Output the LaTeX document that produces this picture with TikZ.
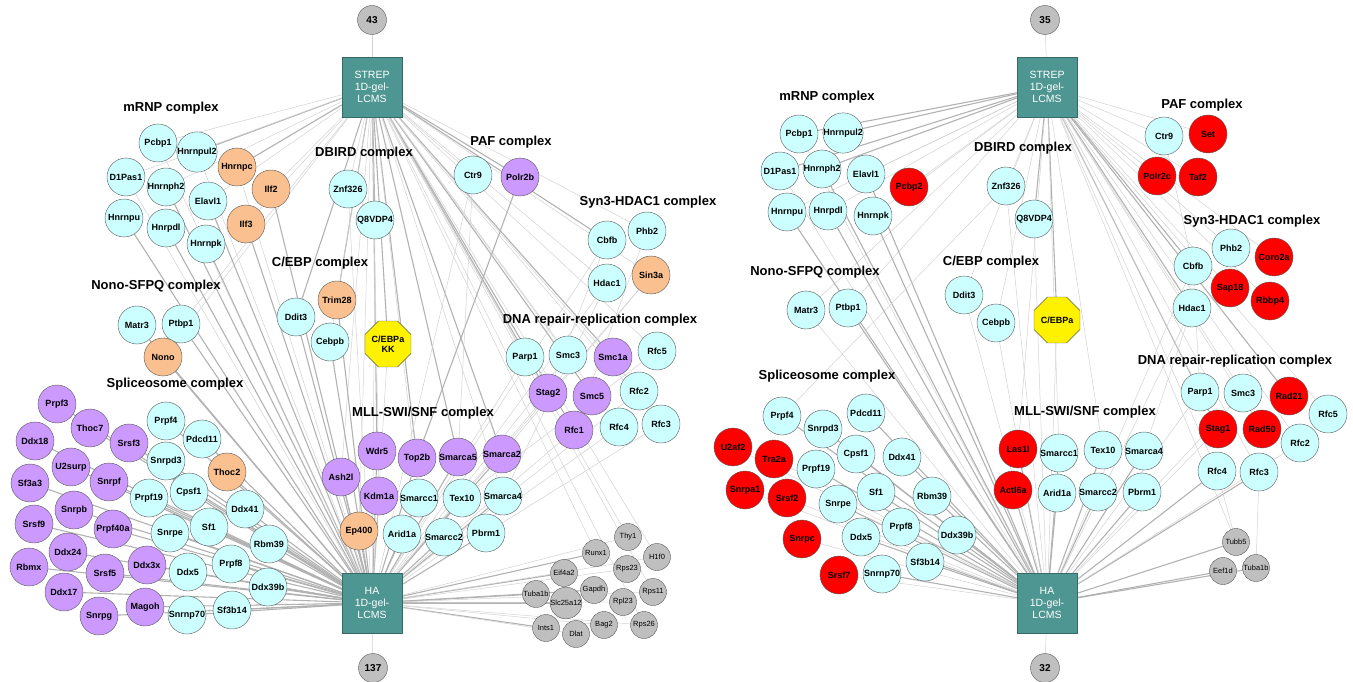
\documentclass[tikz,border=0pt]{standalone}
\usepackage{fontspec}
\setmainfont{Liberation Sans}
\usetikzlibrary{shapes.geometric}
\pgfdeclarelayer{edges}
\pgfsetlayers{edges,main}
\definecolor{cyanfill}{RGB}{204,255,255}
\definecolor{peach}{RGB}{250,192,144}
\definecolor{lilac}{RGB}{204,153,255}
\definecolor{baitteal}{RGB}{78,150,146}

\begin{document}
\begin{tikzpicture}[x=1pt,y=-1pt,
    circ/.style={circle,draw=gray!70!black,minimum size=38pt,inner sep=0pt,font=\fontsize{9}{10}\selectfont\bfseries},
    prot/.style={circ,fill=cyanfill},
    hit/.style={circ,fill=peach},
    co/.style={circ,fill=lilac},
    newhit/.style={circ,fill=red},
    other/.style={circle,draw=gray!70!black,fill=gray!50,minimum size=27pt,inner sep=0pt,font=\fontsize{7.5}{8}\selectfont},
    cnt/.style={circle,draw=gray!70!black,fill=gray!50,minimum size=29pt,inner sep=0pt,font=\fontsize{10}{11}\selectfont\bfseries},
    bait/.style={rectangle,draw=baitteal!70!black,fill=baitteal,minimum size=60pt,inner sep=0pt,align=center,text=white,font=\fontsize{10.5}{12}\selectfont},
    octag/.style={regular polygon,regular polygon sides=8,draw=gray!70!black,fill=yellow,minimum size=47pt,inner sep=0pt,align=center,font=\fontsize{9}{10}\selectfont\bfseries},
    ttl/.style={font=\fontsize{13}{14}\selectfont\bfseries},
    strong/.style={draw=gray!60,line width=1.1pt},
    weak/.style={draw=gray!35,line width=0.5pt}]
    \useasboundingbox (0,0) rectangle (1353,682);

    \node[cnt] (l43) at (372,20) {43};
    \node[bait] (lStrep) at (372,87) {STREP\\1D-gel-\\LCMS};
    \node[bait] (lHa) at (372,603) {HA\\1D-gel-\\LCMS};
    \node[cnt] (l137) at (373,668) {137};

    \node[ttl] at (171,108) {mRNP complex};
    \node[ttl] at (364,153) {DBIRD complex};
    \node[ttl] at (511,142) {PAF complex};
    \node[ttl] at (648,202) {Syn3-HDAC1 complex};
    \node[ttl] at (320,263) {C/EBP complex};
    \node[ttl] at (156,286) {Nono-SFPQ complex};
    \node[ttl] at (600,320) {DNA repair-replication complex};
    \node[ttl] at (175,384) {Spliceosome complex};
    \node[ttl] at (423,413) {MLL-SWI/SNF complex};

    \foreach \n/\t/\x/\y in {lPcbp1/Pcbp1/158/143, lHnrnpul2/Hnrnpul2/197/152, lD1Pas1/D1Pas1/126/177,
        lHnrnph2/Hnrnph2/166/187, lElavl1/Elavl1/208/201, lHnrnpu/Hnrnpu/124/218, lHnrpdl/Hnrpdl/166/228,
        lHnrnpk/Hnrnpk/206/244, lZnf326/Znf326/348/189, lQ8VDP4/Q8VDP4/375/220, lDdit3/Ddit3/296/317,
        lCebpb/Cebpb/330/342, lCtr9/Ctr9/473/175, lCbfb/Cbfb/607/240, lPhb2/Phb2/647/231, lHdac1/Hdac1/607/283,
        lMatr3/Matr3/137/325, lPtbp1/Ptbp1/181/324, lParp1/Parp1/525/357, lSmc3/Smc3/568/355,
        lRfc5/Rfc5/657/351, lRfc2/Rfc2/639/391, lRfc4/Rfc4/619/427, lRfc3/Rfc3/661/424,
        lSmarcc1/Smarcc1/419/498, lTex10/Tex10/462/498, lSmarca4/Smarca4/503/496, lArid1a/Arid1a/402/534,
        lSmarcc2/Smarcc2/444/537, lPbrm1/Pbrm1/486/533, lPrpf4/Prpf4/166/421, lPdcd11/Pdcd11/202/439,
        lSnrpd3/Snrpd3/166/461, lPrpf19/Prpf19/149/498, lCpsf1/Cpsf1/189/492, lDdx41/Ddx41/245/509,
        lSnrpe/Snrpe/170/533, lSf1/Sf1/209/527, lRbm39/Rbm39/269/544, lDdx5/Ddx5/188/572, lPrpf8/Prpf8/231/564,
        lDdx39b/Ddx39b/268/587, lSnrnp70/Snrnp70/187/615, lSf3b14/Sf3b14/232/610}
        \node[prot] (\n) at (\x,\y) {\t};
    \foreach \n/\t/\x/\y in {lHnrnpc/Hnrnpc/237/167, lIlf2/Ilf2/271/189, lIlf3/Ilf3/246/224,
        lTrim28/Trim28/337/300, lSin3a/Sin3a/651/275, lNono/Nono/163/357, lEp400/Ep400/359/531, lThoc2/Thoc2/227/472}
        \node[hit] (\n) at (\x,\y) {\t};
    \foreach \n/\t/\x/\y in {lPolr2b/Polr2b/520/177, lSmc1a/Smc1a/613/357, lStag2/Stag2/548/393,
        lSmc5/Smc5/592/396, lRfc1/Rfc1/574/430, lWdr5/Wdr5/377/451, lTop2b/Top2b/417/458,
        lSmarca5/Smarca5/458/457, lSmarca2/Smarca2/502/454, lAsh2l/Ash2l/341/477, lKdm1a/Kdm1a/379/496,
        lPrpf3/Prpf3/57/404, lThoc7/Thoc7/90/428, lDdx18/Ddx18/35/441, lSrsf3/Srsf3/129/443,
        lU2surp/U2surp/71/467, lSf3a3/Sf3a3/30/483, lSnrpf/Snrpf/109/482, lSnrpb/Snrpb/74/510,
        lSrsf9/Srsf9/34/524, lPrpf40a/Prpf40a/113/529, lDdx24/Ddx24/68/552, lRbmx/Rbmx/29/567,
        lSrsf5/Srsf5/105/573, lDdx3x/Ddx3x/147/565, lDdx17/Ddx17/64/592, lSnrpg/Snrpg/99/616, lMagoh/Magoh/145/607}
        \node[co] (\n) at (\x,\y) {\t};
    \foreach \n/\t/\x/\y in {lThy1/Thy1/628/537, lH1f0/H1f0/657/557, lRunx1/Runx1/596/553,
        lRps23/Rps23/627/569, lEif4a2/Eif4a2/564/573, lGapdh/Gapdh/594/590, lRps11/Rps11/653/592,
        lTuba1b/Tuba1b/536/594, lSlc25a12/Slc25a12/566/603, lRpl23/Rpl23/623/602, lBag2/Bag2/604/625,
        lRps26/Rps26/644/625, lInts1/Ints1/546/628, lDlat/Dlat/576/634}
        \node[other] (\n) at (\x,\y) {\t};
    \node[octag] (lCebpa) at (388,344) {C/EBPa\\KK};

    \node[cnt] (r35) at (1045,20) {35};
    \node[bait] (rStrep) at (1047,87) {STREP\\1D-gel-\\LCMS};
    \node[bait] (rHa) at (1047,603) {HA\\1D-gel-\\LCMS};
    \node[cnt] (r32) at (1045,668) {32};

    \node[ttl] at (827,97) {mRNP complex};
    \node[ttl] at (1023,148) {DBIRD complex};
    \node[ttl] at (1202,105) {PAF complex};
    \node[ttl] at (1252,221) {Syn3-HDAC1 complex};
    \node[ttl] at (991,262) {C/EBP complex};
    \node[ttl] at (815,272) {Nono-SFPQ complex};
    \node[ttl] at (1235,361) {DNA repair-replication complex};
    \node[ttl] at (827,376) {Spliceosome complex};
    \node[ttl] at (1085,412) {MLL-SWI/SNF complex};

    \foreach \n/\t/\x/\y in {rPcbp1/Pcbp1/799/134, rHnrnpul2/Hnrnpul2/843/133, rD1Pas1/D1Pas1/780/171,
        rHnrnph2/Hnrnph2/822/169, rElavl1/Elavl1/866/174, rHnrnpu/Hnrnpu/787/212, rHnrpdl/Hnrpdl/828/211,
        rHnrnpk/Hnrnpk/873/216, rZnf326/Znf326/1006/186, rQ8VDP4/Q8VDP4/1034/219, rDdit3/Ddit3/964/295,
        rCebpb/Cebpb/996/323, rCtr9/Ctr9/1164/136, rPhb2/Phb2/1231/248, rCbfb/Cbfb/1193/266,
        rHdac1/Hdac1/1192/308, rMatr3/Matr3/806/310, rPtbp1/Ptbp1/848/308, rParp1/Parp1/1200/392,
        rSmc3/Smc3/1243/393, rRfc5/Rfc5/1328/414, rRfc2/Rfc2/1300/443, rRfc4/Rfc4/1217/471,
        rRfc3/Rfc3/1259/472, rSmarcc1/Smarcc1/1059/453, rTex10/Tex10/1103/450, rSmarca4/Smarca4/1144/451,
        rArid1a/Arid1a/1057/493, rSmarcc2/Smarcc2/1098/492, rPbrm1/Pbrm1/1142/492, rPrpf4/Prpf4/782/416,
        rPdcd11/Pdcd11/866/413, rSnrpd3/Snrpd3/823/429, rCpsf1/Cpsf1/856/454, rDdx41/Ddx41/902/457,
        rPrpf19/Prpf19/816/469, rSf1/Sf1/876/492, rRbm39/Rbm39/932/496, rSnrpe/Snrpe/838/504,
        rPrpf8/Prpf8/901/527, rDdx39b/Ddx39b/957/535, rDdx5/Ddx5/861/537, rSf3b14/Sf3b14/925/562,
        rSnrnp70/Snrnp70/882/574}
        \node[prot] (\n) at (\x,\y) {\t};
    \foreach \n/\t/\x/\y in {rPcbp2/Pcbp2/909/187, rSet/Set/1208/134, rPolr2c/Polr2c/1157/176,
        rTaf2/Taf2/1198/177, rCoro2a/Coro2a/1274/257, rSap18/Sap18/1230/288, rRbbp4/Rbbp4/1270/301,
        rRad21/Rad21/1289/396, rStag1/Stag1/1218/429, rRad50/Rad50/1262/429, rLas1l/Las1l/1018/449,
        rActl6a/Actl6a/1013/490, rU2af2/U2af2/733/447, rTra2a/Tra2a/774/459, rSnrpa1/Snrpa1/745/490,
        rSrsf2/Srsf2/787/498, rSnrpc/Snrpc/802/539, rSrsf7/Srsf7/839/575}
        \node[newhit] (\n) at (\x,\y) {\t};
    \foreach \n/\t/\x/\y in {rTubb5/Tubb5/1236/542, rEef1d/Eef1d/1223/571, rTuba1b/Tuba1b/1256/568}
        \node[other] (\n) at (\x,\y) {\t};
    \node[octag] (rCebpa) at (1057,320) {C/EBPa};

    \begin{pgfonlayer}{edges}
        \draw[weak] (l43) -- (lStrep);
        \draw[weak] (l137) -- (lHa);
        \draw[weak] (r35) -- (rStrep);
        \draw[weak] (r32) -- (rHa);
        \foreach \n in {lHnrnpul2,lHnrnpc,lQ8VDP4,lCebpa,lSmc1a,lStag2,lSmc5,lRfc1,lTop2b,lSmarca5,
            lSmarca2,lWdr5,lDdit3,lTrim28,lPolr2b,lCbfb}
            \draw[strong] (lStrep) -- (\n);
        \foreach \n in {lPcbp1,lD1Pas1,lHnrnph2,lIlf2,lElavl1,lIlf3,lZnf326,lCebpb,lCtr9,lPhb2,lHdac1,
            lSin3a,lParp1,lSmc3,lRfc5,lRfc2,lRfc4,lRfc3,lNono,lPtbp1,lKdm1a,lAsh2l,lEp400,lThy1,lRunx1,
            lH1f0,lRps11,lRps26,lSmarca4,lSmarcc1}
            \draw[weak] (lStrep) -- (\n);
        \foreach \n in {lPrpf3,lThoc7,lDdx18,lSrsf3,lPrpf4,lPdcd11,lU2surp,lSnrpd3,lThoc2,lSf3a3,lSnrpf,
            lPrpf19,lCpsf1,lSnrpb,lDdx41,lSrsf9,lPrpf40a,lSnrpe,lSf1,lRbm39,lDdx24,lRbmx,lSrsf5,lDdx3x,
            lDdx5,lPrpf8,lDdx39b,lDdx17,lSnrpg,lMagoh,lSnrnp70,lSf3b14,lHnrnpu,lHnrpdl,lHnrnpk,lIlf3,lIlf2,
            lElavl1,lHnrnph2,lNono,lMatr3,lPtbp1,lCebpb,lDdit3,lTrim28,lWdr5,lTop2b,lSmarca5,lSmarca2,
            lAsh2l,lKdm1a,lSmarcc1,lTex10,lSmarca4,lEp400,lArid1a,lSmarcc2,lPbrm1,lTuba1b,lEif4a2,
            lSlc25a12,lInts1,lRunx1,lGapdh}
            \draw[strong] (lHa) -- (\n);
        \foreach \n in {lZnf326,lQ8VDP4,lCtr9,lParp1,lStag2,lSmc3,lRfc1,lRfc4,lRfc2,lCbfb,lHdac1,lSin3a,
            lThy1,lH1f0,lRps23,lRps11,lRpl23,lBag2,lRps26,lDlat,lPcbp1,lD1Pas1,lHnrnpc,lHnrnpul2,lCebpa}
            \draw[weak] (lHa) -- (\n);
        \draw[strong] (lPolr2b) -- (lTop2b);
        \draw[weak] (lCbfb) -- (lStag2);
        \draw[weak] (lHdac1) -- (lSmarca4);
        \draw[weak] (lPhb2) -- (lRfc1);
        \draw[weak] (lSin3a) -- (lSmarca2);
        \draw[weak] (lCtr9) -- (lSmarca5);
        \draw[weak] (lRfc5) -- (lTex10);
        \draw[weak] (lRfc3) -- (lPbrm1);
        \foreach \n in {rHnrnpul2,rPcbp1,rD1Pas1,rQ8VDP4,rCebpa,rCbfb,rHdac1,rRad21,rStag1,rHnrnph2}
            \draw[strong] (rStrep) -- (\n);
        \foreach \n in {rPcbp2,rElavl1,rZnf326,rDdit3,rCebpb,rCtr9,rSet,rTaf2,rPolr2c,rPhb2,rSap18,
            rCoro2a,rRbbp4,rParp1,rSmc3,rRad50,rRfc5,rRfc2,rRfc3,rRfc4,rLas1l,rSmarcc1,rTex10,rTubb5,
            rMatr3,rPtbp1,rHnrnpk,rHnrnpu,rHnrpdl}
            \draw[weak] (rStrep) -- (\n);
        \foreach \n in {rPrpf4,rPdcd11,rSnrpd3,rCpsf1,rDdx41,rPrpf19,rSf1,rRbm39,rSnrpe,rPrpf8,rDdx39b,
            rDdx5,rSf3b14,rSnrnp70,rHnrnpu,rHnrpdl,rHnrnpk,rHnrnph2,rElavl1,rPtbp1,rLas1l,rActl6a,rArid1a,
            rSmarcc1,rSmarcc2,rTex10,rPbrm1,rSmarca4,rEef1d,rTubb5,rTuba1b,rRfc3,rRfc4}
            \draw[strong] (rHa) -- (\n);
        \foreach \n in {rMatr3,rDdit3,rCebpb,rZnf326,rQ8VDP4,rCebpa,rParp1,rSmc3,rStag1,rHdac1,rCbfb,
            rU2af2,rTra2a,rSnrpa1,rSrsf2,rSnrpc,rSrsf7,rPcbp1,rD1Pas1,rRfc2}
            \draw[weak] (rHa) -- (\n);
        \draw[weak] (rCtr9) -- (rCbfb);
        \draw[weak] (rHdac1) -- (rSmarca4);
        \draw[weak] (rCbfb) -- (rParp1);
        \draw[weak] (rPrpf4) -- (rZnf326);
        \draw[weak] (rTubb5) -- (rRfc4);
        \draw[weak] (rTuba1b) -- (rRfc3);
    \end{pgfonlayer}
\end{tikzpicture}
\end{document}
